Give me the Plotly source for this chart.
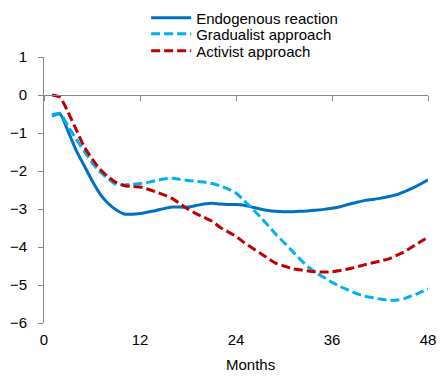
import plotly.graph_objects as go

months = list(range(1, 49))

endogenous = [-0.55, -0.50, -0.95, -1.45, -1.85, -2.25, -2.60, -2.85, -3.02, -3.13,
              -3.14, -3.12, -3.08, -3.04, -2.99, -2.95, -2.95, -2.95, -2.91, -2.87,
              -2.85, -2.87, -2.88, -2.88, -2.90, -2.95, -3.00, -3.04, -3.06, -3.07,
              -3.07, -3.06, -3.05, -3.03, -3.01, -2.98, -2.94, -2.88, -2.83, -2.78,
              -2.75, -2.72, -2.68, -2.63, -2.55, -2.46, -2.35, -2.23]

gradualist = [-0.52, -0.48, -0.82, -1.15, -1.47, -1.78, -2.02, -2.20, -2.35, -2.37,
              -2.35, -2.33, -2.30, -2.25, -2.21, -2.19, -2.22, -2.25, -2.27, -2.29,
              -2.33, -2.39, -2.47, -2.58, -2.78, -2.98, -3.20, -3.43, -3.67, -3.88,
              -4.10, -4.32, -4.52, -4.68, -4.80, -4.93, -5.04, -5.13, -5.22, -5.29,
              -5.33, -5.37, -5.40, -5.40, -5.36, -5.28, -5.20, -5.10]

activist = [0.00, -0.06, -0.45, -0.90, -1.35, -1.68, -1.95, -2.15, -2.30, -2.38,
            -2.41, -2.42, -2.48, -2.55, -2.63, -2.72, -2.86, -3.00, -3.12, -3.22,
            -3.32, -3.48, -3.60, -3.72, -3.88, -4.02, -4.16, -4.30, -4.43, -4.50,
            -4.57, -4.60, -4.63, -4.65, -4.66, -4.65, -4.62, -4.58, -4.53, -4.47,
            -4.42, -4.37, -4.32, -4.23, -4.13, -4.00, -3.87, -3.74]

x_ticks = [0, 12, 24, 36, 48]
y_ticks = [1, 0, -1, -2, -3, -4, -5, -6]

FONT = "Liberation Sans, Arial, sans-serif"
AXIS = "#868686"
FS = 15

fig = go.Figure()
fig.add_trace(go.Scatter(x=months, y=endogenous, name="Endogenous reaction", mode="lines",
                         legend="legend",
                         line=dict(color="#0070C0", width=3, shape="spline", smoothing=0.6)))
fig.add_trace(go.Scatter(x=months, y=gradualist, name="Gradualist approach", mode="lines",
                         legend="legend2",
                         line=dict(color="#00B0F0", width=3, dash="9px,4px", shape="spline", smoothing=0.6)))
fig.add_trace(go.Scatter(x=months, y=activist, name="Activist approach", mode="lines",
                         legend="legend3",
                         line=dict(color="#C00000", width=3, dash="9px,4px", shape="spline", smoothing=0.6)))
# helper trace for the zero-line axis
fig.add_trace(go.Scatter(x=[x_ticks[0], x_ticks[-1]], y=[None, None], xaxis="x2",
                         showlegend=False, hoverinfo="skip", mode="lines"))

def leg(y):
    return dict(x=0.266, y=y, xanchor="left", yanchor="middle",
                font=dict(size=FS), tracegroupgap=0, itemwidth=40,
                bgcolor="rgba(0,0,0,0)")

fig.update_layout(
    width=428, height=373,
    margin=dict(l=36, r=8, t=49, b=58, autoexpand=False),
    paper_bgcolor="white", plot_bgcolor="white",
    font=dict(family=FONT, size=FS, color="black"),
    showlegend=True,
    legend=leg(1.1466),
    legend2=leg(1.0865),
    legend3=leg(1.0226),
    xaxis=dict(range=[0, 48], tickvals=x_ticks, ticktext=[str(v) for v in x_ticks],
               showline=False, showgrid=False, zeroline=False, ticks="",
               ticklabelstandoff=6, tickfont=dict(size=FS), ticklabeloverflow="allow"),
    xaxis2=dict(range=[0, 48], overlaying="x", anchor="free", position=6/7, side="bottom",
                tickvals=x_ticks, showticklabels=False, showline=True, linecolor=AXIS,
                linewidth=1, ticks="outside", ticklen=5, tickcolor=AXIS,
                showgrid=False, zeroline=False),
    yaxis=dict(range=[-6, 1], tickvals=y_ticks, showline=True, linecolor=AXIS, linewidth=1,
               ticks="outside", ticklen=5, tickcolor=AXIS, showgrid=False, zeroline=False,
               ticklabelstandoff=8, tickfont=dict(size=FS)),
    annotations=[dict(text="Months", x=0.539, y=-0.155, xref="paper", yref="paper",
                      xanchor="center", yanchor="middle", showarrow=False,
                      font=dict(size=FS))],
)

fig.write_html("out.html")
